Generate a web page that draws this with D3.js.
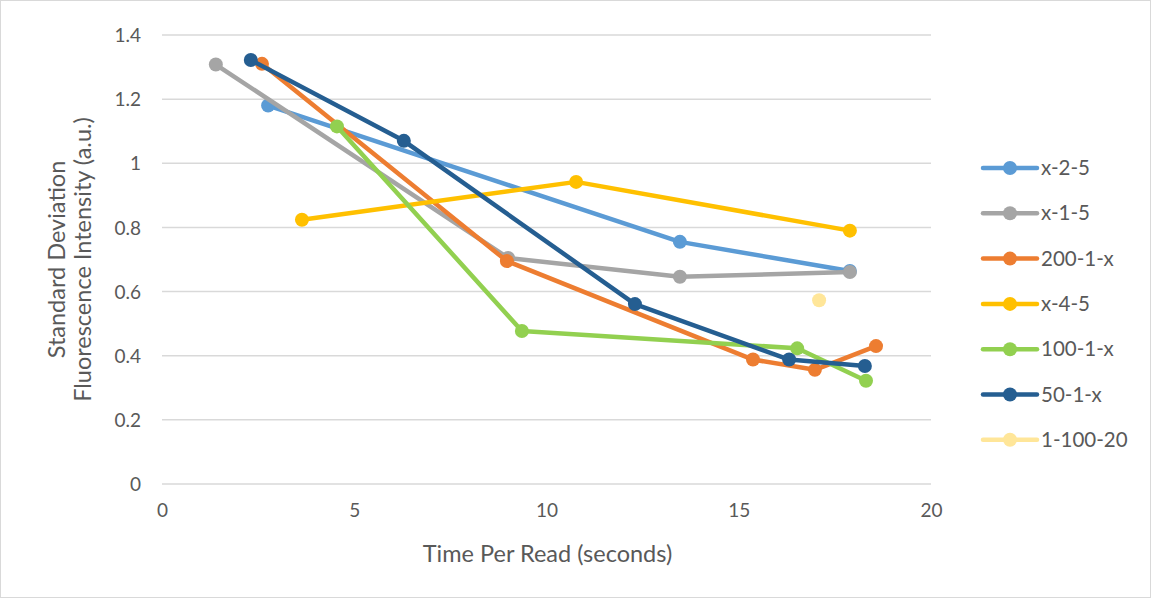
<!DOCTYPE html>
<html>
<head>
<meta charset="utf-8">
<script src="https://cdn.jsdelivr.net/npm/d3@7"></script>
<style>
  body { margin: 0; background: #fff; }
  text { font-family: Lato, "Open Sans", sans-serif; fill: #595959; }
</style>
</head>
<body>
<svg id="chart" width="1151" height="599"></svg>
<script>
// series data
const seriesNames = ["x-2-5", "x-1-5", "200-1-x", "x-4-5", "100-1-x", "50-1-x", "1-100-20"];
const seriesColors = ["#5b9bd5", "#a5a5a5", "#ed7d31", "#ffc000", "#92d050", "#255e91", "#ffe699"];

const x25 = [[2.76, 1.18], [13.47, 0.755], [17.89, 0.664]];
const x15 = [[1.40, 1.308], [9.0, 0.705], [13.47, 0.646], [17.89, 0.661]];
const s200 = [[2.6, 1.31], [8.97, 0.695], [15.37, 0.388], [16.98, 0.356], [18.57, 0.43]];
const x45 = [[3.64, 0.824], [10.77, 0.942], [17.89, 0.79]];
const s100 = [[4.55, 1.115], [9.36, 0.477], [16.52, 0.423], [18.31, 0.322]];
const s50 = [[2.31, 1.322], [6.29, 1.07], [12.3, 0.561], [16.31, 0.388], [18.28, 0.368]];
const s1100 = [[17.09, 0.573]];

const seriesData = [x25, x15, s200, x45, s100, s50, s1100];

const xTicks = [0, 5, 10, 15, 20];
const yTicks = [0, 0.2, 0.4, 0.6, 0.8, 1, 1.2, 1.4];

const svg = d3.select("#chart");

// outer frame
svg.append("rect")
  .attr("x", 0.5).attr("y", 0.5)
  .attr("width", 1150).attr("height", 597)
  .attr("fill", "#fff")
  .attr("stroke", "#d9d9d9");

const x = d3.scaleLinear().domain([0, 20]).range([162, 931]);
const y = d3.scaleLinear().domain([0, 1.4]).range([484, 35]);

// gridlines
svg.append("g")
  .selectAll("line")
  .data(yTicks)
  .join("line")
  .attr("x1", x(0)).attr("x2", x(20))
  .attr("y1", d => y(d)).attr("y2", d => y(d))
  .attr("stroke", "#d9d9d9")
  .attr("stroke-width", 1.5);

// y axis labels
const yAxis = svg.append("g")
  .attr("transform", `translate(${x(0) - 21},0)`)
  .call(d3.axisLeft(y).tickValues(yTicks).tickSize(0).tickFormat(d => d3.format("")(+d.toFixed(1))));
yAxis.select(".domain").remove();
yAxis.selectAll("text").style("font-size", "19px").attr("fill", "#595959").attr("dy", "0.35em").attr("x", 0);

// x axis labels
const xAxis = svg.append("g")
  .attr("transform", `translate(0,${y(0) + 15})`)
  .call(d3.axisBottom(x).tickValues(xTicks).tickSize(0));
xAxis.select(".domain").remove();
xAxis.selectAll("text").style("font-size", "19px").attr("fill", "#595959").attr("dy", "0.8em");

// axis titles
svg.append("text")
  .attr("x", (x(0) + x(20)) / 2 + 1).attr("y", 562)
  .attr("text-anchor", "middle")
  .style("font-size", "23.5px")
  .text("Time Per Read (seconds)");

const yTitle = svg.append("text")
  .attr("transform", `translate(65,${(y(0) + y(1.4)) / 2}) rotate(-90)`)
  .attr("text-anchor", "middle")
  .style("font-size", "23.5px");
yTitle.append("tspan").attr("x", 0).attr("dy", 0).text("Standard Deviation");
yTitle.append("tspan").attr("x", 0).attr("dy", 26).text("Fluorescence Intensity (a.u.)");

// series lines and markers
const line = d3.line().x(d => x(d[0])).y(d => y(d[1]));

seriesData.forEach((data, i) => {
  const g = svg.append("g");
  if (data.length > 1) {
    g.append("path")
      .attr("d", line(data))
      .attr("fill", "none")
      .attr("stroke", seriesColors[i])
      .attr("stroke-width", 4.5)
      .attr("stroke-linejoin", "round");
  }
  g.selectAll("circle")
    .data(data)
    .join("circle")
    .attr("cx", d => x(d[0]))
    .attr("cy", d => y(d[1]))
    .attr("r", 7)
    .attr("fill", seriesColors[i]);
});

// legend
const legend = svg.append("g");
seriesNames.forEach((name, i) => {
  const ly = 168 + i * 45.3;
  legend.append("line")
    .attr("x1", 983).attr("x2", 1037)
    .attr("y1", ly).attr("y2", ly)
    .attr("stroke", seriesColors[i])
    .attr("stroke-width", 4.5)
    .attr("stroke-linecap", "round");
  legend.append("circle")
    .attr("cx", 1010).attr("cy", ly).attr("r", 7)
    .attr("fill", seriesColors[i]);
  legend.append("text")
    .attr("x", 1041).attr("y", ly)
    .attr("dy", "0.35em")
    .style("font-size", "20.5px")
    .text(name);
});
</script>
</body>
</html>
